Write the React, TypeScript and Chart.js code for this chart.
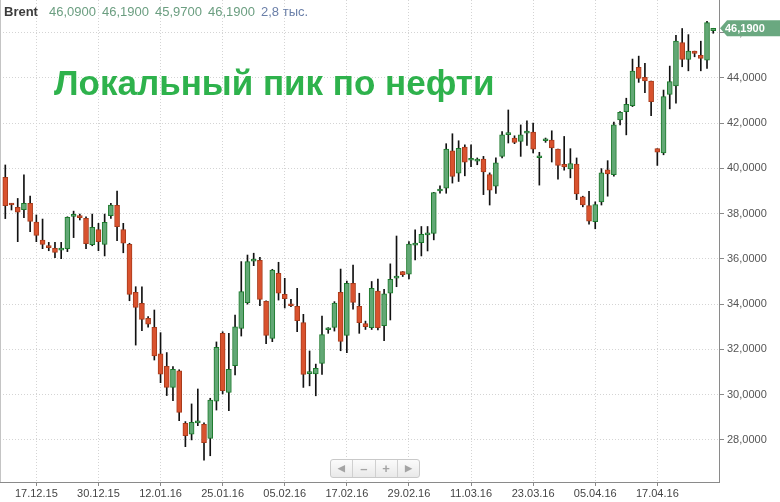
import React, { useEffect, useRef } from "react";
import { Chart, registerables } from "chart.js";

Chart.register(...registerables);

// OHLC values (index = trading day)
const opens = [39.60,38.42,38.28,38.17,38.45,37.63,36.83,36.54,36.47,36.39,36.45,37.88,37.87,37.79,36.63,37.30,36.64,37.91,38.37,37.30,36.64,34.52,34.04,33.37,32.97,31.80,31.25,30.32,31.05,28.73,28.25,28.75,28.69,28.07,29.71,32.71,30.10,31.28,32.93,34.06,35.90,35.94,34.12,32.49,35.36,34.43,33.99,33.90,33.19,30.93,30.92,31.38,32.87,32.97,34.52,32.62,34.92,33.90,33.14,32.96,34.58,33.05,34.48,35.15,35.44,35.32,36.61,36.72,37.06,37.13,39.00,39.12,40.78,39.79,40.94,40.36,40.32,40.41,39.72,39.21,40.53,41.49,41.34,41.19,41.56,41.60,40.47,41.22,41.25,40.85,40.18,39.97,40.19,38.74,38.36,37.64,38.52,39.94,39.72,42.14,42.51,42.77,44.46,44.02,43.86,40.87,40.68,43.27,43.64,45.56,44.81,45.18,45.00,44.78,46.09];
const highs = [40.15,38.45,38.67,39.71,38.78,37.94,37.76,36.73,36.73,36.73,37.86,38.11,37.98,37.86,37.98,37.57,37.98,38.45,39.00,37.57,36.69,34.77,34.77,33.45,33.74,32.74,31.86,31.24,31.10,28.81,29.59,30.25,28.76,29.84,32.33,32.78,32.71,33.52,35.88,36.17,36.25,36.07,34.15,35.54,35.85,35.14,34.21,34.70,33.55,31.93,31.35,33.47,32.96,34.11,35.55,35.02,35.73,34.48,33.25,35.00,35.11,34.65,35.78,37.01,35.44,36.76,37.28,37.43,37.43,38.94,39.23,41.09,41.53,41.22,41.04,41.04,40.46,40.53,39.80,40.46,41.63,42.58,41.44,41.92,42.10,42.00,40.71,41.34,41.66,40.85,41.41,40.87,40.46,38.77,38.99,38.52,39.99,40.34,42.04,42.51,43.10,44.83,44.96,44.64,43.86,40.87,43.46,44.52,45.88,46.18,45.91,45.18,45.62,46.50,46.19];
const lows = [37.78,38.16,36.76,37.82,37.20,36.76,36.45,36.36,36.05,36.01,36.32,36.94,37.72,36.45,36.58,36.36,36.13,37.79,36.80,36.27,34.15,32.19,32.83,32.98,31.53,30.53,29.96,29.73,28.85,27.70,28.00,28.63,27.11,27.30,29.32,30.03,29.29,30.87,32.59,34.00,35.70,33.93,32.25,32.34,34.18,33.83,33.89,32.78,30.32,30.39,29.95,30.89,32.71,32.81,31.94,31.85,33.78,32.71,32.88,32.88,32.86,32.38,33.30,34.77,35.22,35.11,35.95,36.13,36.35,36.84,38.90,38.90,39.35,39.42,39.67,40.08,40.16,38.84,38.38,38.89,40.46,41.12,41.09,40.53,41.01,40.68,39.26,41.15,40.28,39.52,39.92,39.58,38.62,38.30,37.53,37.33,38.38,38.77,39.65,41.92,41.48,42.73,43.80,43.35,42.33,40.13,40.60,42.63,42.88,44.49,44.31,44.93,44.31,44.42,45.97];
const closes = [38.35,38.38,38.06,38.45,37.66,37.04,36.64,36.50,36.29,36.42,37.84,37.97,37.82,36.67,37.39,36.76,37.61,38.38,37.42,36.69,34.43,33.86,33.33,33.11,31.71,30.90,30.32,31.12,29.22,28.19,28.78,28.78,27.88,29.76,32.09,30.18,31.12,33.00,34.55,35.88,35.93,34.21,32.62,35.50,34.48,34.24,33.93,33.27,30.89,30.97,31.16,32.66,32.90,34.05,32.35,34.92,34.08,33.18,33.00,34.70,32.96,34.45,35.10,35.18,35.30,36.65,36.63,37.09,37.08,38.93,39.03,40.85,39.64,40.89,40.27,40.38,40.34,39.84,39.04,40.24,41.48,41.52,41.15,41.48,41.59,40.85,40.49,41.25,40.90,40.13,40.06,40.21,38.87,38.38,37.67,38.40,39.80,39.75,41.92,42.48,42.83,44.30,43.98,43.86,42.95,40.72,43.17,43.83,45.62,44.81,45.18,45.08,44.86,46.44,46.19];

const dateTickIndex = [5, 15, 25, 35, 45, 55, 65, 75, 85, 95, 105];
const dateTickLabels = ["17.12.15","30.12.15","12.01.16","25.01.16","05.02.16","17.02.16","29.02.16","11.03.16","23.03.16","05.04.16","17.04.16"];
const priceTicks = [28, 30, 32, 34, 36, 38, 40, 42, 44, 46];

const headerValues = ["46,0900", "46,1900", "45,9700", "46,1900"];
const lastPrice = 46.19;

const FONT = "'Liberation Sans', Arial, sans-serif";

const UP_FILL = "#62a875";
const UP_BORDER = "#1c7a2c";
const DOWN_FILL = "#d9522e";
const DOWN_BORDER = "#a83c1c";

const fmt = (v: number) => v.toFixed(4).replace(".", ",");

export default function App() {
  const ref = useRef<HTMLCanvasElement | null>(null);

  useEffect(() => {
    if (!ref.current) return;
    const idx = opens.map((_, i) => i);
    const up = idx.map((i) => closes[i] >= opens[i]);

    const decor = {
      id: "decor",
      afterDraw(chart: any) {
        const ctx = chart.ctx;
        const ys = chart.scales.y;
        const ca = chart.chartArea;
        ctx.save();
        ctx.strokeStyle = "#c4c4c4";
        ctx.lineWidth = 1;
        ctx.beginPath();
        ctx.moveTo(0.5, 0);
        ctx.lineTo(0.5, ca.bottom);
        ctx.stroke();
        const y = ys.getPixelForValue(lastPrice);
        const x0 = ca.right + 1;
        ctx.fillStyle = "#6aa880";
        ctx.beginPath();
        ctx.moveTo(x0, y);
        ctx.lineTo(x0 + 7, y - 8);
        ctx.lineTo(780, y - 8);
        ctx.lineTo(780, y + 8);
        ctx.lineTo(x0 + 7, y + 8);
        ctx.closePath();
        ctx.fill();
        ctx.fillStyle = "#ffffff";
        ctx.font = "bold 11px " + FONT;
        ctx.textBaseline = "middle";
        ctx.textAlign = "left";
        ctx.fillText(fmt(lastPrice), x0 + 5, y + 0.5);
        ctx.restore();
      },
    };

    const chart = new Chart(ref.current, {
      type: "bar",
      data: {
        datasets: [
          {
            label: "body",
            data: idx.map((i) => ({ x: i, y: [Math.min(opens[i], closes[i]), Math.max(opens[i], closes[i])] })) as any,
            backgroundColor: idx.map((i) => (up[i] ? UP_FILL : DOWN_FILL)),
            borderColor: idx.map((i) => (up[i] ? UP_BORDER : DOWN_BORDER)),
            borderWidth: 1,
            borderSkipped: false,
            barThickness: 5,
            minBarLength: 2,
            grouped: false,
          } as any,
          {
            label: "wick",
            data: idx.map((i) => ({ x: i, y: [lows[i], highs[i]] })) as any,
            backgroundColor: "#111111",
            borderWidth: 0,
            barThickness: 1,
            grouped: false,
          } as any,
        ],
      },
      options: {
        animation: false,
        responsive: false,
        maintainAspectRatio: false,
        layout: { padding: 0 },
        plugins: { legend: { display: false }, tooltip: { enabled: false }, title: { display: false } },
        scales: {
          x: {
            type: "linear",
            position: "bottom",
            offset: false,
            min: -0.853,
            max: 114.93,
            afterBuildTicks: (s: any) => {
              s.ticks = dateTickIndex.map((v) => ({ value: v }));
            },
            afterFit: (s: any) => {
              s.height = 20;
              s.paddingLeft = 0;
              s.paddingRight = 0;
            },
            ticks: {
              autoSkip: false,
              maxRotation: 0,
              padding: 1,
              color: "#444",
              font: { family: FONT, size: 11 },
              callback: (v: any) => {
                const k = dateTickIndex.indexOf(Number(v));
                return k >= 0 ? dateTickLabels[k] : "";
              },
            },
            grid: {
              offset: false,
              color: "#d4d4d4",
              tickLength: 4,
              tickColor: "#888",
              tickBorderDash: [],
            } as any,
            border: { display: true, color: "#8a8a8a", dash: [1, 2] } as any,
          },
          y: {
            type: "linear",
            position: "right",
            min: 26.14,
            max: 47.44,
            afterBuildTicks: (s: any) => {
              s.ticks = priceTicks.map((v) => ({ value: v }));
            },
            afterFit: (s: any) => {
              s.width = 61;
              s.paddingTop = 0;
              s.paddingBottom = 0;
            },
            ticks: {
              padding: 3,
              color: "#555",
              font: { family: FONT, size: 11 },
              callback: (v: any) => fmt(Number(v)),
            },
            grid: {
              color: "#d4d4d4",
              tickLength: 5,
              tickColor: "#888",
              tickBorderDash: [],
            } as any,
            border: { display: true, color: "#8a8a8a", dash: [1, 2] } as any,
          },
        },
      },
      plugins: [decor],
    });
    return () => chart.destroy();
  }, []);

  const hdrStyle: React.CSSProperties = {
    position: "absolute",
    top: 4.5,
    fontFamily: FONT,
    fontSize: 13,
    lineHeight: "13px",
    whiteSpace: "nowrap",
  };
  const headerX = [49, 102, 155, 208];
  const navCells = ["◀", "–", "+", "▶"];

  return (
    <div style={{ position: "fixed", left: 0, top: 0, width: 780, height: 502, background: "#fff", overflow: "hidden" }}>
      <canvas ref={ref} width={780} height={502} style={{ position: "absolute", left: 0, top: 0, width: 780, height: 502 }} />
      <span style={{ ...hdrStyle, left: 4, fontWeight: "bold", color: "#3c3c3c" }}>Brent</span>
      {headerValues.map((t, i) => (
        <span key={i} style={{ ...hdrStyle, left: headerX[i], color: "#6b9e80" }}>{t}</span>
      ))}
      <span style={{ ...hdrStyle, left: 261, color: "#6a7fa8" }}>2,8 тыс.</span>
      <div
        style={{
          position: "absolute",
          left: 54,
          top: 64.5,
          fontFamily: FONT,
          fontWeight: "bold",
          fontSize: 35,
          lineHeight: "35px",
          color: "#2eb24c",
          whiteSpace: "nowrap",
        }}
      >
        Локальный пик по нефти
      </div>
      <div
        style={{
          position: "absolute",
          left: 330,
          top: 459,
          width: 88,
          height: 17,
          border: "1px solid #c9c9c9",
          borderRadius: 3,
          background: "linear-gradient(#fbfbfb, #e9e9e9)",
          display: "flex",
          boxSizing: "content-box",
        }}
      >
        {navCells.map((c, i) => (
          <div
            key={i}
            style={{
              flex: 1,
              borderLeft: i === 0 ? "none" : "1px solid #d0d0d0",
              color: "#a4a4a4",
              fontFamily: FONT,
              fontSize: i === 0 || i === 3 ? 9 : 13,
              fontWeight: "bold",
              display: "flex",
              alignItems: "center",
              justifyContent: "center",
              lineHeight: "17px",
            }}
          >
            {c}
          </div>
        ))}
      </div>
    </div>
  );
}
